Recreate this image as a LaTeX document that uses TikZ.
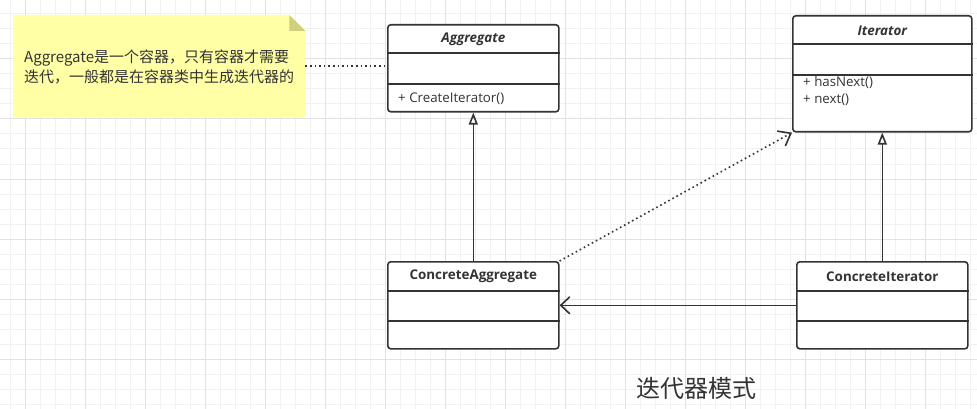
\documentclass[tikz,border=0pt]{standalone}
\usepackage{fontspec}
\setmainfont{Open Sans}
\newfontfamily\cjk{Noto Sans CJK SC}
\usetikzlibrary{arrows.meta,calc}
\definecolor{ink}{HTML}{333333}
\definecolor{gridminor}{HTML}{F1F1F1}
\definecolor{gridmajor}{HTML}{E2E2E2}
\definecolor{notefill}{HTML}{FFFFA6}
\definecolor{foldfill}{HTML}{D0D07C}
\tikzset{
  classbox/.style={draw=ink, line width=1.6pt, rounded corners=3pt, fill=white, inner sep=0pt, anchor=north west},
  divider/.style={draw=ink, line width=1.6pt},
  titletext/.style={font=\fontsize{13.4}{15}\selectfont\bfseries, text=ink, inner sep=0pt},
  membertext/.style={font=\fontsize{13.3}{15}\selectfont, text=ink, inner sep=0pt, anchor=west},
  inherit/.style={draw=ink, line width=1.6pt, -{Triangle[open, length=12pt, width=9pt]}},
  depend/.style={draw=ink, line width=1.6pt, dash pattern=on 1.6pt off 3pt, -{Straight Barb[length=11pt, width=17pt]}},
  assoc/.style={draw=ink, line width=1.6pt, -{Straight Barb[length=9pt, width=17pt]}},
  notelink/.style={draw=ink, line width=1.6pt, dash pattern=on 1.6pt off 3pt},
}
\begin{document}
\begin{tikzpicture}[x=1pt,y=-1pt]
\useasboundingbox (0,0) rectangle (977,409);
\fill[white] (0,0) rectangle (977,409);
% grid
\foreach \x in {10,25,...,976} \draw[gridminor, line width=1pt] (\x,0) -- (\x,409);
\foreach \y in {14,29,...,408} \draw[gridminor, line width=1pt] (0,\y) -- (977,\y);
\foreach \x in {25,85,...,976} \draw[gridmajor, line width=1pt] (\x,0) -- (\x,409);
\foreach \y in {59,119,...,408} \draw[gridmajor, line width=1pt] (0,\y) -- (977,\y);

% note
\node[minimum width=292pt, minimum height=102pt, anchor=north west, inner sep=0pt] (note) at (13,15) {};
\fill[notefill] (note.north west) -- ($(note.north east)+(-16,0)$) -- ($(note.north east)+(0,16)$) -- (note.south east) -- (note.south west) -- cycle;
\fill[foldfill] ($(note.north east)+(-16,0)$) -- ($(note.north east)+(0,16)$) -- ($(note.north east)+(-16,16)$) -- cycle;
\node[font=\cjk\fontsize{15}{20}\selectfont, align=left, anchor=west, text=ink, inner sep=0pt] (notetext) at (24,67) {Aggregate是一个容器，只有容器才需要\\迭代，一般都是在容器类中生成迭代器的};

% Aggregate
\node[classbox, minimum width=171pt, minimum height=87pt] (agg) at (387,24) {};
\draw[divider] ($(agg.north west)+(0,29)$) -- ($(agg.north east)+(0,29)$);
\draw[divider] ($(agg.north west)+(0,60)$) -- ($(agg.north east)+(0,60)$);
\node[titletext] (aggtitle) at ($(agg.north)+(0,15.5)$) {\itshape Aggregate};
\node[membertext] (aggm) at ($(agg.north west)+(11,75)$) {+ CreateIterator()};

% Iterator
\node[classbox, minimum width=179pt, minimum height=116pt] (it) at (792,15) {};
\draw[divider] ($(it.north west)+(0,29)$) -- ($(it.north east)+(0,29)$);
\draw[divider] ($(it.north west)+(0,60)$) -- ($(it.north east)+(0,60)$);
\node[titletext] (ittitle) at ($(it.north)+(0,15.5)$) {\itshape Iterator};
\node[membertext] (itm1) at ($(it.north west)+(11,68)$) {+ hasNext()};
\node[membertext] (itm2) at ($(it.north west)+(11,85)$) {+ next()};

% ConcreteAggregate
\node[classbox, minimum width=171pt, minimum height=87pt] (ca) at (387,261) {};
\draw[divider] ($(ca.north west)+(0,30)$) -- ($(ca.north east)+(0,30)$);
\draw[divider] ($(ca.north west)+(0,60)$) -- ($(ca.north east)+(0,60)$);
\node[titletext] (catitle) at ($(ca.north)+(0,15.5)$) {ConcreteAggregate};

% ConcreteIterator
\node[classbox, minimum width=171pt, minimum height=87pt] (ci) at (796,261) {};
\draw[divider] ($(ci.north west)+(0,30)$) -- ($(ci.north east)+(0,30)$);
\draw[divider] ($(ci.north west)+(0,60)$) -- ($(ci.north east)+(0,60)$);
\node[titletext] (cititle) at ($(ci.north)+(0,15.5)$) {ConcreteIterator};

% connectors
\draw[notelink] (note.east) -- (note.east -| agg.west);
\draw[inherit] (ca.north) -- (agg.south);
\draw[inherit] (ci.north) -- (ci.north |- it.south);
\draw[depend] (ca.north east) -- (it.south west);
\draw[assoc] (ci.west) -- (ca.east);

% title
\node[font=\cjk\fontsize{24}{28}\selectfont, text=ink, inner sep=0pt] (title) at (696,388) {迭代器模式};
\end{tikzpicture}
\end{document}
